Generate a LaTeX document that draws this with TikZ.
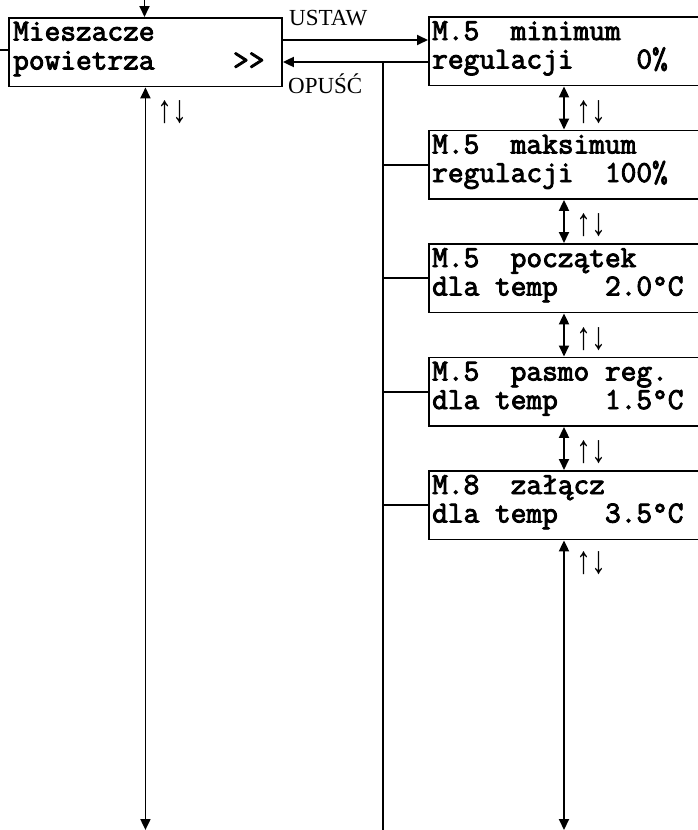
\documentclass[tikz,border=0pt]{standalone}
\usepackage{fontspec}
\usepackage{graphicx}
\setmainfont{Liberation Serif}
\newfontfamily\lcdfont{Latin Modern Mono}[FakeBold=3]
\usetikzlibrary{arrows.meta,calc}
\newcommand{\updn}{\scalebox{1}[1.3]{↑↓}}
\begin{document}
\begin{tikzpicture}[x=1pt,y=-1pt,
  box/.style={draw,line width=1.9pt,minimum height=68.5pt,inner sep=0pt,anchor=north west},
  lbox/.style={box,minimum width=273pt},
  rbox/.style={box,minimum width=320pt},
  lcd/.style={font=\lcdfont\fontsize{30.5}{30}\selectfont,anchor=base west,inner sep=0pt},
  lbl/.style={font=\fontsize{23}{26}\selectfont,inner sep=0pt},
  arlbl/.style={font=\fontsize{30}{32}\selectfont,inner sep=0pt},
  conn/.style={line width=1.9pt},
  arr/.style={conn,-{Triangle[length=11pt,width=10pt]}},
  darr/.style={conn,{Triangle[length=11pt,width=10pt]}-{Triangle[length=11pt,width=10pt]}}]
\path[use as bounding box,clip] (0,0) rectangle (698,830);
\fill[white] (0,0) rectangle (698,830);

% boxes
\node[lbox] (L) at (8,17) {};
\node[rbox] (R1) at (428,16) {};
\node[rbox] (R2) at (428,129.5) {};
\node[rbox] (R3) at (428,243) {};
\node[rbox] (R4) at (428,356.5) {};
\node[rbox] (R5) at (428,470) {};

% texts
\node[lcd] (L1) at ($(L.north west)+(5,23.5)$) {Mieszacze};
\node[lcd] (L2) at ($(L.north west)+(5,52.5)$) {powietrza~~~~~>\kern0pt>};
\node[lcd] (A1) at ($(R1.north west)+(4,24)$) {M.5~~minimum};
\node[lcd] (A2) at ($(R1.north west)+(4,52.5)$) {regulacji~~~~0\%};
\node[lcd] (B1) at ($(R2.north west)+(4,24)$) {M.5~~maksimum};
\node[lcd] (B2) at ($(R2.north west)+(4,52.5)$) {regulacji~~100\%};
\node[lcd] (C1) at ($(R3.north west)+(4,24)$) {M.5~~początek};
\node[lcd] (C2) at ($(R3.north west)+(4,52.5)$) {dla~temp~~~2.0°C};
\node[lcd] (D1) at ($(R4.north west)+(4,24)$) {M.5~~pasmo~reg.};
\node[lcd] (D2) at ($(R4.north west)+(4,52.5)$) {dla~temp~~~1.5°C};
\node[lcd] (E1) at ($(R5.north west)+(4,24)$) {M.8~~załącz};
\node[lcd] (E2) at ($(R5.north west)+(4,52.5)$) {dla~temp~~~3.5°C};

% helper coordinates
\coordinate (top) at (144.5,0);
\coordinate (lstub) at (0,50);
\coordinate (yU) at (0,40);
\coordinate (yO) at (0,62);
\coordinate (bus) at (383,0);
\coordinate (ax) at (564,0);
\coordinate (bottom) at (0,830);

% connectors
\draw[arr] (top) -- (top |- L.north);
\draw[conn] (lstub) -- (lstub -| L.west);
\draw[arr] (L.east |- yU) -- (R1.west |- yU);
\draw[arr] (R1.west |- yO) -- (L.east |- yO);
\draw[conn] (bus |- yO) -- (bus |- bottom);
\draw[conn] (bus |- R2.west) -- (R2.west);
\draw[conn] (bus |- R3.west) -- (R3.west);
\draw[conn] (bus |- R4.west) -- (R4.west);
\draw[conn] (bus |- R5.west) -- (R5.west);
\draw[darr] (L.south) -- (L.south |- bottom);
\draw[darr] (R1.south -| ax) -- (R2.north -| ax);
\draw[darr] (R2.south -| ax) -- (R3.north -| ax);
\draw[darr] (R3.south -| ax) -- (R4.north -| ax);
\draw[darr] (R4.south -| ax) -- (R5.north -| ax);
\draw[darr] (R5.south -| ax) -- (ax |- bottom);

% labels
\node[lbl,anchor=base west] (ustaw) at (289,25) {USTAW};
\node[lbl,anchor=base west] (opusc) at (288,93) {OPUŚĆ};
\node[arlbl] (k0) at (172,112) {\updn};
\node[arlbl] (k1) at (591.5,112) {\updn};
\node[arlbl] (k2) at (591.5,225.5) {\updn};
\node[arlbl] (k3) at (591.5,339) {\updn};
\node[arlbl] (k4) at (591.5,452.5) {\updn};
\node[arlbl] (k5) at (591.5,563) {\updn};
\end{tikzpicture}
\end{document}
